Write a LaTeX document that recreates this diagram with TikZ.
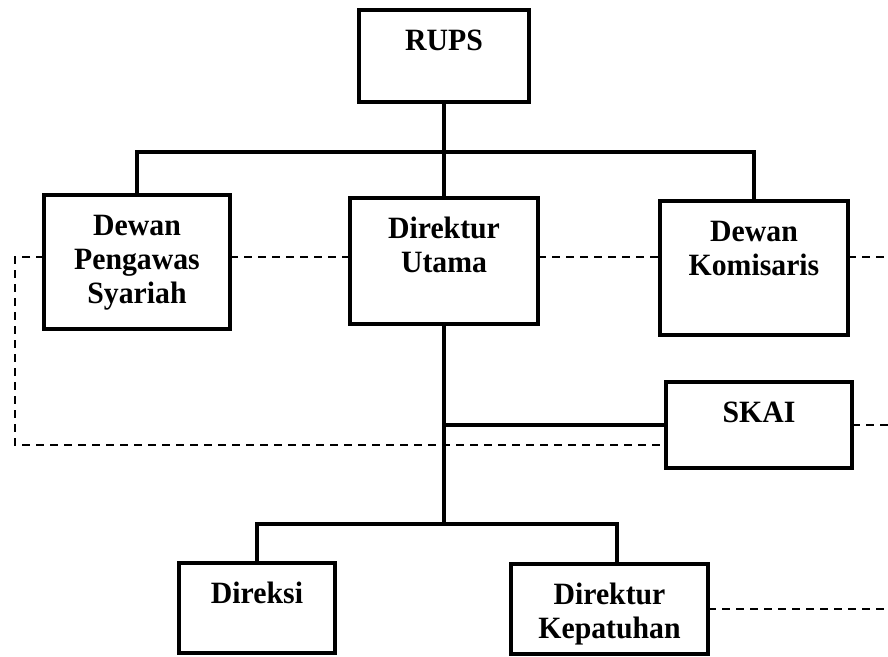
\documentclass[tikz,border=0pt]{standalone}
\usepackage{fontspec}
\setmainfont{Liberation Serif}[BoldFeatures={FakeStretch=0.96}]
\newcommand{\boxtext}[3]{\parbox[b][#2][t]{#1}{\centering\rule{0pt}{40pt}#3}}
\tikzset{
  orgbox/.style={draw, line width=3.4pt, inner sep=0pt, outer sep=0pt, anchor=north west,
    font=\bfseries\fontsize{31}{34}\selectfont},
  solidline/.style={line width=3.4pt},
  dashline/.style={line width=2.8pt, dash pattern=on 8pt off 6pt}
}
\begin{document}
\begin{tikzpicture}[x=1pt,y=1pt]
\useasboundingbox (0,0) rectangle (888,-656);
\node[orgbox] (rups) at (359,-10) {\boxtext{170pt}{92pt}{RUPS}};
\node[orgbox] (dps) at (44,-195) {\boxtext{186pt}{134pt}{Dewan\\Pengawas\\Syariah}};
\node[orgbox] (du) at (350,-198) {\boxtext{188pt}{126pt}{Direktur\\Utama}};
\node[orgbox] (dk) at (660,-201) {\boxtext{188pt}{134pt}{Dewan\\Komisaris}};
\node[orgbox] (skai) at (666,-382) {\boxtext{186pt}{86pt}{SKAI}};
\node[orgbox] (dir) at (179,-563) {\boxtext{156pt}{90pt}{Direksi}};
\node[orgbox] (kep) at (511,-564) {\boxtext{197pt}{90pt}{Direktur\\Kepatuhan}};
% coordinates
\coordinate (bus1) at (0,-152);
\coordinate (bus2) at (0,-524);
\coordinate (kepdrop) at (617,-564);
\coordinate (dl) at (0,-257);
\coordinate (lcorner) at (15,-445);
\coordinate (redge) at (888,0);
% solid connectors
\draw[solidline] (rups.south) -- (rups.south |- du.north);
\draw[solidline] (dps.north) -- (dps.north |- bus1) -- (dk.north |- bus1) -- (dk.north);
\draw[solidline] (du.south) -- (du.south |- bus2);
\draw[solidline] (dir.north) -- (dir.north |- bus2) -- (kepdrop |- bus2) -- (kepdrop);
\draw[solidline] (skai.west) -- (skai.west -| du.south);
% dashed connectors
\draw[dashline] (dps.east |- dl) -- (du.west |- dl);
\draw[dashline] (du.east |- dl) -- (dk.west |- dl);
\draw[dashline] (dk.east |- dl) -- (redge |- dl);
\draw[dashline] (dps.west |- dl) -| (lcorner) -- (lcorner -| skai.west);
\draw[dashline] (skai.east) -- (skai.east -| redge);
\draw[dashline] (kep.east) -- (kep.east -| redge);
\end{tikzpicture}
\end{document}
